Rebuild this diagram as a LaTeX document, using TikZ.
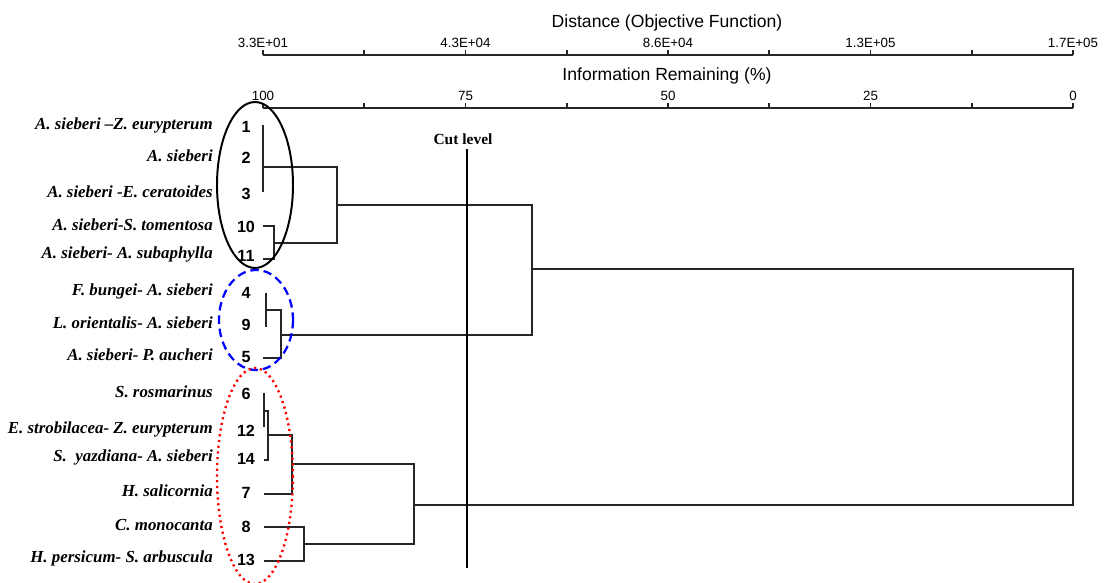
\documentclass[tikz,border=0pt]{standalone}
\usepackage{fontspec}
\setmainfont{Liberation Serif}
\setsansfont{Liberation Sans}
\usepackage{tikz}
\usetikzlibrary{calc}

\begin{document}
\begin{tikzpicture}[x=0.025cm,y=-0.025cm]
	\tikzstyle{branch} = [line width=1.1pt, black!85]
	\tikzstyle{axis} = [line width=1.2pt, black!85]
	\tikzstyle{ticklab} = [font=\sffamily\fontsize{9.5}{10}\selectfont, inner sep=0pt]
	\tikzstyle{axtitle} = [font=\sffamily\fontsize{12.5}{13}\selectfont, inner sep=0pt]
	\tikzstyle{leafnum} = [font=\sffamily\bfseries\fontsize{11.5}{12}\selectfont, inner sep=0pt]
	\tikzstyle{species} = [font=\bfseries\itshape\fontsize{12}{13}\selectfont, inner sep=0pt, anchor=east]
	\useasboundingbox (0,0) rectangle (1107,583);

	% scales
	\coordinate (D0) at (263,55);
	\coordinate (D1) at (1073,55);
	\coordinate (I0) at (263,108);
	\coordinate (I1) at (1073,108);
	\draw[axis] (D0) -- (D1);
	\draw[axis] (I0) -- (I1);
	\foreach \t in {0,...,8} {
		\draw[axis] ($(D0)!\t/8!(D1)$) -- ++(0,-5);
		\draw[axis] ($(I0)!\t/8!(I1)$) -- ++(0,-5);
	}
	\foreach \lab [count=\i from 0] in {3.3E+01,4.3E+04,8.6E+04,1.3E+05,1.7E+05}
		\node[ticklab] (dlab\i) at ($(D0)!\i/4!(D1) + (0,-12)$) {\lab};
	\foreach \lab [count=\i from 0] in {100,75,50,25,0}
		\node[ticklab] (ilab\i) at ($(I0)!\i/4!(I1) + (0,-12)$) {\lab};
	\node[axtitle] (dtitle) at (667,23) {Distance (Objective Function)};
	\node[axtitle] (ititle) at (667,76) {Information Remaining (\%)};

	% leaves
	\foreach \n/\y/\s in {1/127/{A. sieberi –Z. eurypterum}, 2/158/{A. sieberi},
		3/194/{A. sieberi -E. ceratoides}, 10/227/{A. sieberi-S. tomentosa},
		11/256/{A. sieberi- A. subaphylla}, 4/293/{F. bungei- A. sieberi},
		9/325/{L. orientalis- A. sieberi}, 5/357/{A. sieberi- P. aucheri},
		6/394/{S. rosmarinus}, 12/431/{E. strobilacea- Z. eurypterum},
		14/459/{S.\ \ yazdiana- A. sieberi}, 7/493/{H. salicornia},
		8/527/{C. monocanta}, 13/560/{H. persicum- S. arbuscula}} {
		\node[leafnum] (num\n) at (246,\y) {\n};
		\node[species] (sp\n) at (213,\y-2) {\s};
	}

	% dendrogram
	\coordinate (L1) at (263,125);
	\coordinate (L3) at (263,192);
	\coordinate (C123) at (264,167);
	\coordinate (L10) at (263,226);
	\coordinate (L11) at (263,259);
	\coordinate (C1011) at (274,243);
	\coordinate (CA) at (337,205);
	\coordinate (L4) at (266,293);
	\coordinate (L9) at (266,327);
	\coordinate (C49) at (266,310);
	\coordinate (L5) at (263,358);
	\coordinate (CB) at (281,335);
	\coordinate (CAB) at (532,269);
	\coordinate (L6) at (264,393);
	\coordinate (L12) at (264,427);
	\coordinate (C612) at (264,411);
	\coordinate (L14) at (264,460);
	\coordinate (C614) at (268,435);
	\coordinate (L7) at (264,494);
	\coordinate (CC1) at (292,464);
	\coordinate (L8) at (264,527);
	\coordinate (L13) at (264,561);
	\coordinate (C813) at (304,544);
	\coordinate (CC) at (414,505);
	\coordinate (R) at (1073,387);

	\draw[branch] (L1) -- (L3);
	\draw[branch] (L10) -| (C1011) |- (L11);
	\draw[branch] (C123) -| (CA) |- (C1011);
	\draw[branch] (L4) -- (L9);
	\draw[branch] (C49) -| (CB) |- (L5);
	\draw[branch] (CA) -| (CAB) |- (CB);
	\draw[branch] (L6) -- (L12);
	\draw[branch] (C612) -| (C614) |- (L14);
	\draw[branch] (C614) -| (CC1) |- (L7);
	\draw[branch] (L8) -| (C813) |- (L13);
	\draw[branch] (CC1) -| (CC) |- (C813);
	\draw[branch] (CAB) -| (R) |- (CC);

	% cut level
	\node[font=\bfseries\fontsize{11}{12}\selectfont, inner sep=0pt] (cutlab) at (463,139) {Cut level};
	\coordinate (cut1) at (467,149);
	\coordinate (cut2) at (467,568);
	\draw[line width=1.6pt] (cut1) -- (cut2);

	% groups
	\draw[line width=1.4pt] (255,185) ellipse (38 and 83);
	\draw[blue, line width=1.6pt, dash pattern=on 6pt off 3.5pt] (256,320) ellipse (37 and 50);
	\draw[red, line width=1.7pt, dash pattern=on 1.5pt off 2.6pt] (255,476) ellipse (38 and 108);
\end{tikzpicture}
\end{document}
